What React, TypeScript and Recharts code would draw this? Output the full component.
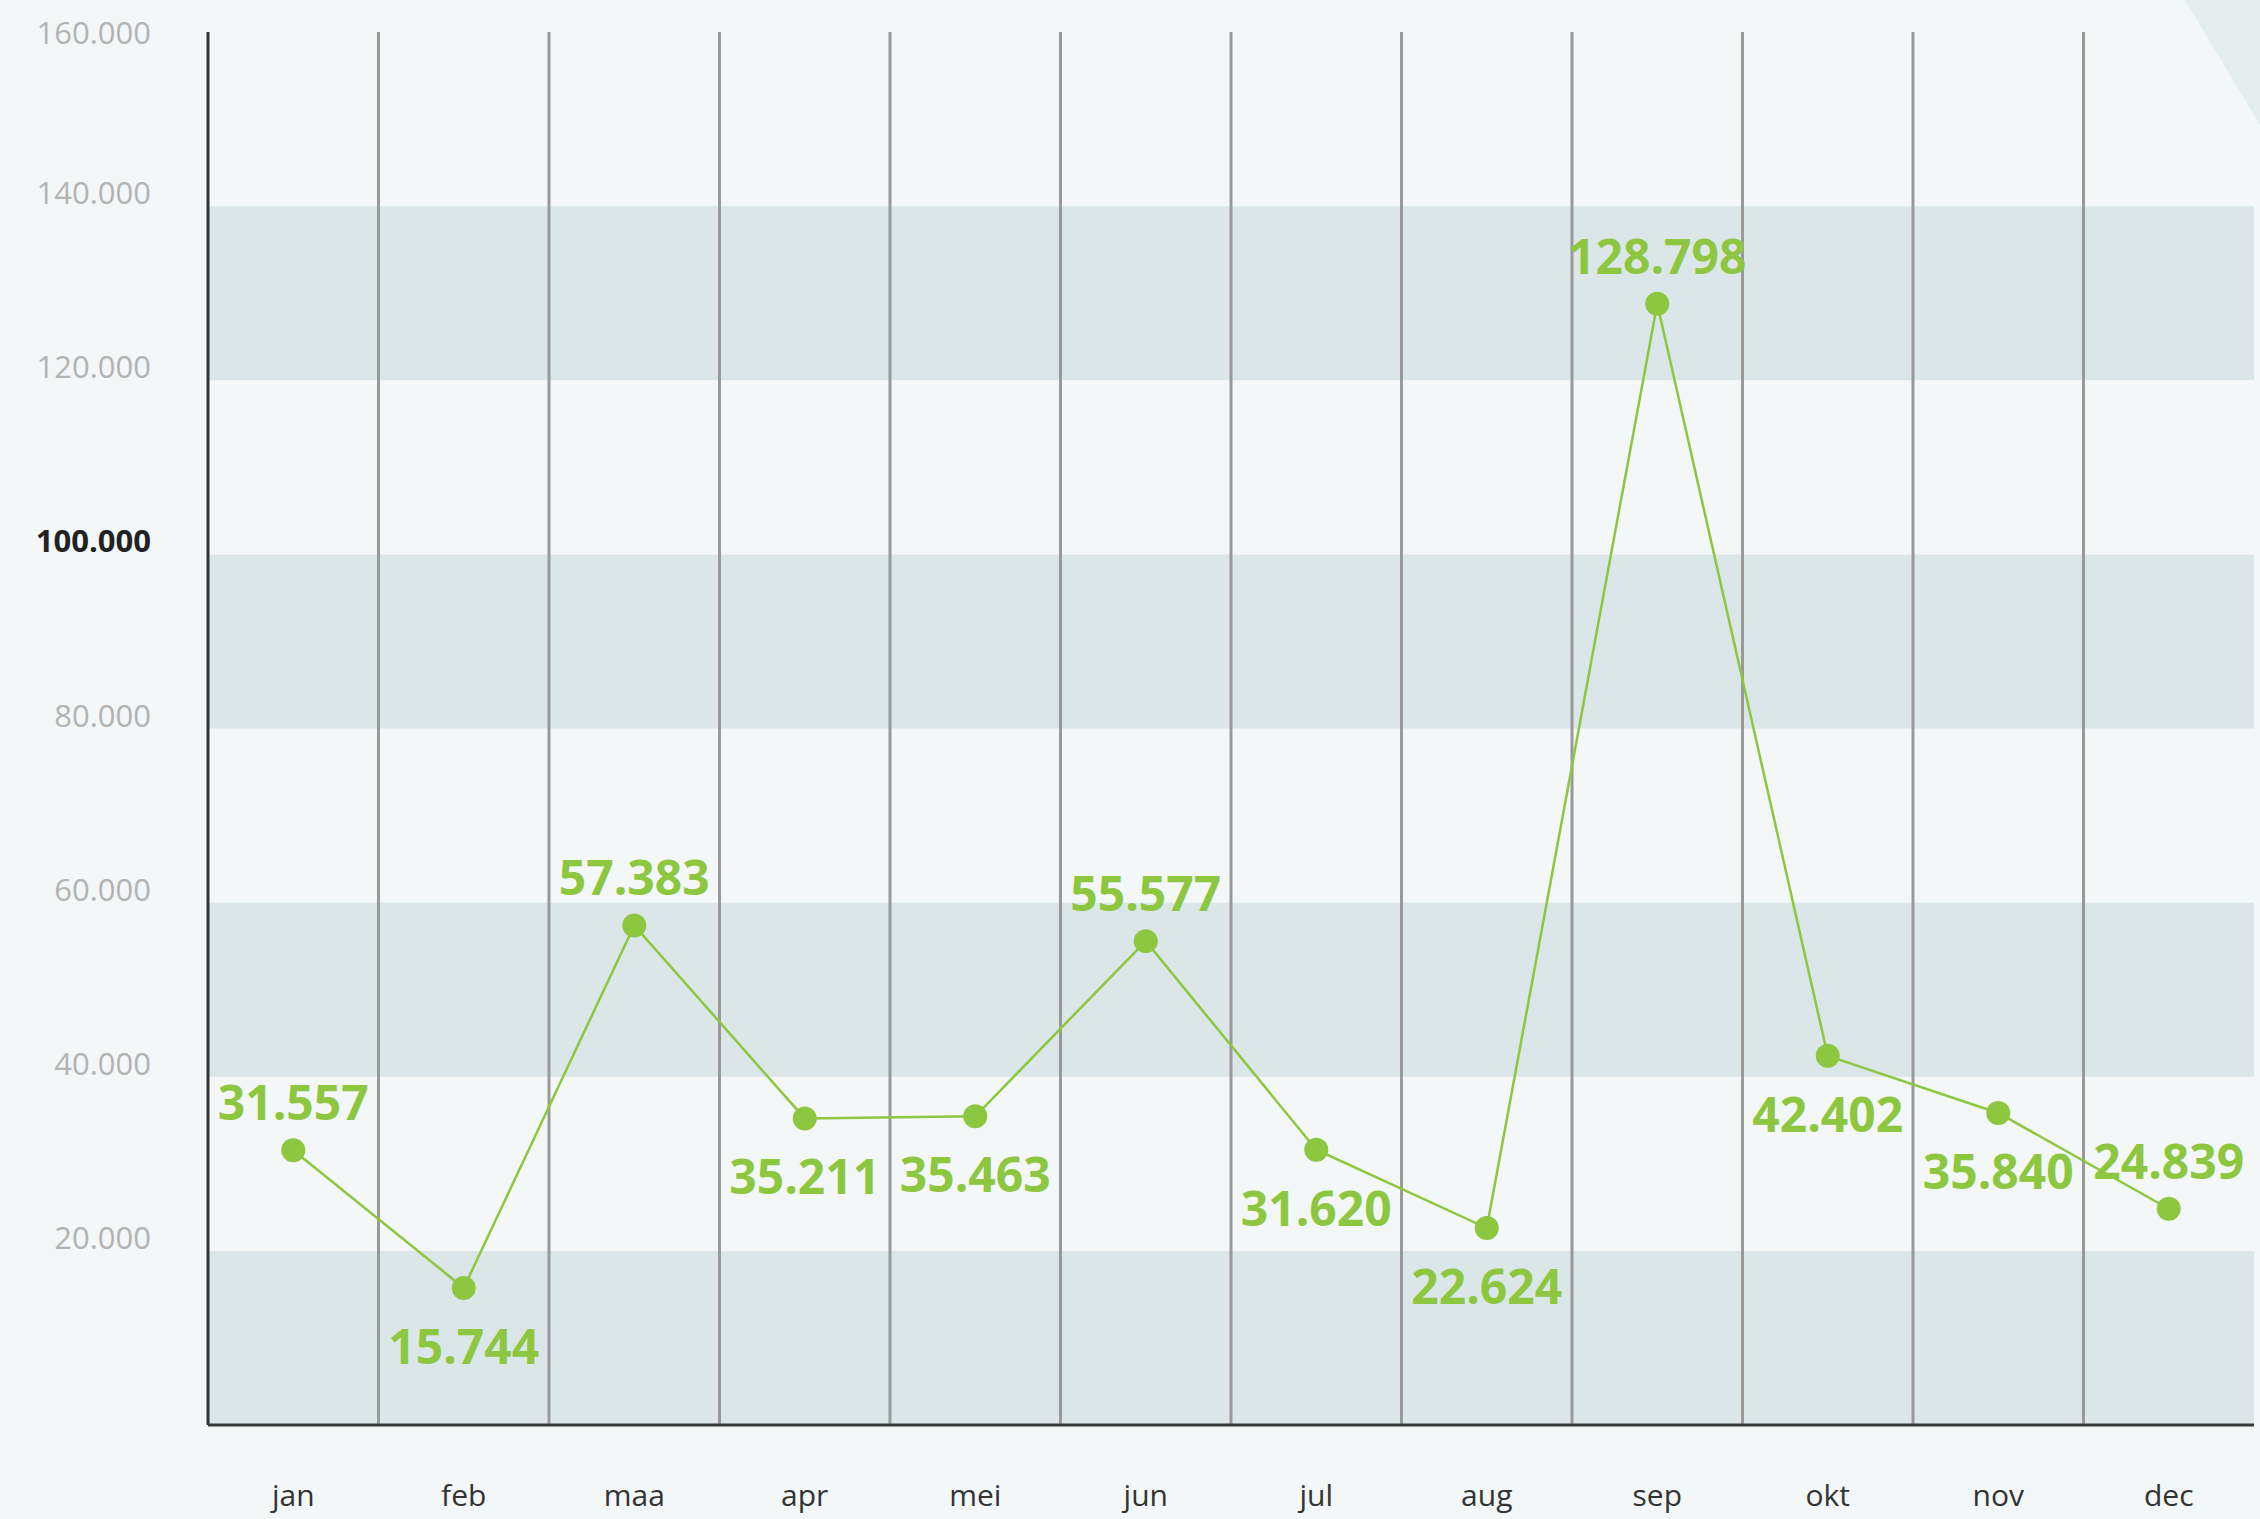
import { LineChart, Line, XAxis, YAxis, ReferenceArea, ReferenceLine, LabelList } from 'recharts';

const months = ['jan', 'feb', 'maa', 'apr', 'mei', 'jun', 'jul', 'aug', 'sep', 'okt', 'nov', 'dec'];
const visitors = [31557, 15744, 57383, 35211, 35463, 55577, 31620, 22624, 128798, 42402, 35840, 24839];
// which side of the dot each value label sits on
const labelSide = ['top', 'bottom', 'top', 'bottom', 'bottom', 'top', 'bottom', 'bottom', 'top', 'bottom', 'bottom', 'top'];
const yTicks = [20000, 40000, 60000, 80000, 100000, 120000, 140000, 160000];
const bands = [[0, 20000], [40000, 60000], [80000, 100000], [120000, 140000]];

const GREEN = '#8dc63f';

// Dutch thousands separator
const fmt = (v: number) => String(v).replace(/\B(?=(\d{3})+(?!\d))/g, '.');

const chartData = months.map((m, i) => ({ x: i + 0.5, month: m, value: visitors[i] }));

function YTick({ x, y, payload }: any) {
  const bold = payload.value === 100000;
  // labels sit a bit above their gridline, except the top one which would clip
  const ty = payload.value === 160000 ? y : y - 14;
  return (
    <text
      x={x - 49}
      y={ty}
      textAnchor="end"
      dominantBaseline="central"
      fontFamily="Open Sans"
      fontSize={31}
      fontWeight={bold ? 700 : 400}
      fill={bold ? '#222' : '#b3b3b3'}
    >
      {fmt(payload.value)}
    </text>
  );
}

function XTick({ x, y, payload }: any) {
  const idx = Math.round(payload.value - 0.5);
  return (
    <text x={x} y={y + 61} textAnchor="middle" dominantBaseline="central" fontFamily="Open Sans" fontSize={30} fill="#333">
      {months[idx]}
    </text>
  );
}

function ValueLabel({ x, y, index, value }: any) {
  const top = labelSide[index] === 'top';
  return (
    <text
      x={x}
      y={top ? y - 30 : y + 76}
      textAnchor="middle"
      fontFamily="Open Sans"
      fontSize={48}
      fontWeight={700}
      fill={GREEN}
    >
      {fmt(value)}
    </text>
  );
}

export default function App() {
  return (
    <div style={{ position: 'absolute', left: 0, top: 0, width: 2260, height: 1519, background: '#f3f7f8', overflow: 'hidden' }}>
      <svg width={2260} height={1519} style={{ position: 'absolute', left: 0, top: 0 }}>
        <polygon points="2185,0 2260,0 2260,125" fill="#e4ecee" />
      </svg>
      <div style={{ position: 'absolute', left: 0, top: 0 }}>
        <LineChart width={2260} height={1519} data={chartData} margin={{ top: 32, right: 6, left: 0, bottom: 0 }}>
          {bands.map(([a, b]) => (
            <ReferenceArea key={a} y1={a} y2={b} x1={0} x2={12} fill="#dbe6e8" fillOpacity={1} stroke="none" ifOverflow="visible" />
          ))}
          {months.slice(1).map((_, i) => (
            <ReferenceLine key={i} x={i + 1} stroke="#999" strokeWidth={3} />
          ))}
          <XAxis
            type="number"
            dataKey="x"
            domain={[0, 12]}
            ticks={chartData.map((d) => d.x)}
            tick={<XTick />}
            tickLine={false}
            axisLine={{ stroke: '#3a3a3a', strokeWidth: 3 }}
            height={94}
            interval={0}
          />
          <YAxis
            domain={[0, 160000]}
            ticks={yTicks}
            tick={<YTick />}
            tickLine={false}
            axisLine={{ stroke: '#333', strokeWidth: 3 }}
            width={208}
            interval={0}
          />
          <Line
            type="linear"
            dataKey="value"
            stroke={GREEN}
            strokeWidth={2.5}
            dot={{ r: 12, fill: GREEN, stroke: 'none' }}
            activeDot={false}
            isAnimationActive={false}
          >
            <LabelList dataKey="value" content={<ValueLabel />} />
          </Line>
        </LineChart>
      </div>
    </div>
  );
}
